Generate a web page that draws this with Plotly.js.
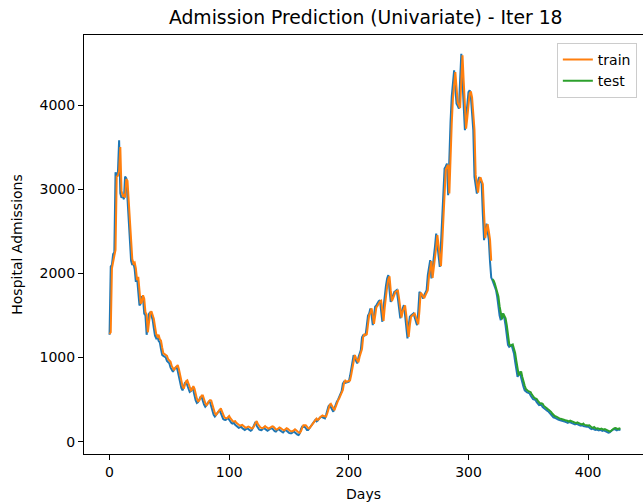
<!DOCTYPE html>
<html>
<head>
<meta charset="utf-8">
<script src="https://cdn.plot.ly/plotly-3.0.1.min.js"></script>
<style>html,body{margin:0;padding:0;background:#fff;}#chart{width:643px;height:504px;}</style>
</head>
<body>
<div id="chart"></div>
<script>
// Actual hospital admissions, days 0..427
const actualValues = [
1270,2080,2100,2230,2250,3200,3150,3200,3580,2950,2900,2920,2880,3150,3130,2850,2600,2350,2150,2100,2120,2050,1900,1950,1750,1620,1640,1730,1700,1520,1500,1270,1400,1520,1540,1500,1450,1350,1260,1230,1250,1200,1180,1100,1030,1020,
1010,1000,960,940,930,880,850,830,860,880,890,840,760,700,640,610,650,700,710,670,620,590,600,640,610,540,490,460,470,500,530,530,480,440,415,430,460,475,470,420,360,320,300,320,350,370,375,340,300,270,260,258,270,285,260,
237,220,215,225,200,185,175,165,170,180,160,145,140,150,160,150,135,130,140,170,200,235,190,160,145,140,138,150,165,150,135,130,140,155,160,158,140,125,120,135,150,140,125,118,110,125,140,130,115,105,100,100,110,125,110,95,85,80,100,150,
178,175,178,160,140,139,160,190,210,230,250,258,240,250,275,290,297,290,280,278,320,380,420,436,410,370,356,400,450,475,500,530,554,600,690,712,700,705,710,712,780,880,960,1029,990,950,930,1000,1060,1088,1240,1266,1260,1266,1380,1500,1524,1583,1500,1385,
1500,1603,1620,1650,1670,1682,1550,1425,1600,1780,1850,1940,1979,1800,1662,1700,1750,1781,1790,1801,1700,1560,1465,1543,1600,1623,1500,1385,1227,1380,1484,1500,1515,1524,1480,1420,1385,1550,1781,1760,1720,1702,1740,1781,1800,1979,2100,2157,1939,2050,2176,2320,2473,2350,2200,2077,2350,2651,2950,3245,
3270,3304,2928,3483,3800,4100,4300,4412,4200,4016,3990,3957,4300,4610,4273,3950,3700,3850,4050,4154,4175,4100,3900,3700,3145,3050,2948,3100,3145,3100,3067,2700,2394,2500,2592,2500,2394,2136,1950,1919,
1880,1820,1801,1721,1600,1500,1444,1524,1500,1465,1380,1260,1150,1128,1140,1148,1100,1049,950,840,772,800,831,760,693,650,610,594,585,580,574,545,515,505,500,495,470,450,436,440,436,410,396,390,375,365,356,340,320,297,290,285,275,270,262,258,255,245,250,240,237,230,225,235,228,220,218,210,205,215,205,198,195,190,200,185,180,175,178,180,165,155,150,160,147,140,145,138,135,140,131,128,135,125,120,115,107,110,125,140,147,150,140,135,145,140,139
];
// Train predictions, days 0..319
const trainStart = 0;
const trainValues = [
1280,1300,2060,2120,2210,2280,3150,3160,3220,3500,2980,2920,2930,2900,3120,3100,2870,2610,2380,2170,2120,2130,2060,1920,1960,1770,1640,1660,1740,1700,1540,1510,1300,1420,1530,1550,1510,1460,1370,1280,1250,1270,1220,1200,1120,1050,
1040,1030,1020,980,960,950,900,870,850,880,900,910,860,780,720,660,630,670,720,730,690,640,610,620,660,630,560,510,480,490,520,550,550,500,460,435,450,480,495,490,440,380,340,320,340,370,390,395,360,320,290,280,278,290,305,
280,260,245,240,245,225,210,200,190,195,200,185,170,165,172,180,172,160,155,165,190,220,245,210,185,170,165,160,172,185,172,158,155,165,178,182,178,162,148,145,158,170,162,148,140,135,148,160,152,138,128,125,125,135,148,135,120,110,105,125,
165,195,195,195,180,160,158,178,208,228,248,268,275,260,268,292,308,312,305,298,298,338,395,435,450,425,388,375,415,465,490,515,545,570,615,700,725,712,718,722,728,795,890,970,1030,995,960,945,1010,1070,1100,1245,1275,1268,1275,1390,1505,1530,1585,1505,
1400,1495,1595,1615,1645,1665,1675,1555,1435,1595,1770,1840,1930,1965,1800,1670,1705,1750,1780,1790,1795,1700,1565,1475,1545,1600,1620,1505,1395,1245,1385,1485,1500,1515,1522,1480,1425,1395,1555,1770,1755,1720,1705,1740,1780,1800,1970,2090,2145,1945,2050,2170,2310,2455,2345,2200,2085,2345,2640,2935,
3230,3265,3290,2950,3460,3780,4080,4280,4390,4210,4030,3995,3965,4290,4590,4280,3960,3720,3850,4040,4140,4160,4090,3900,3710,3170,3060,2960,3095,3140,3100,3060,2720,2420,2505,2585,2500,2400,2150
];
// Test predictions, days 320..427
const testStart = 320;
const testValues = [
1930,1915,1880,1825,1800,1725,1610,1510,1455,1525,1500,1465,1385,1270,1165,1140,1150,1155,1105,1055,960,855,790,810,835,770,705,665,625,610,600,595,588,560,530,520,515,508,485,465,452,455,450,425,410,405,390,380,370,355,335,312,305,300,290,285,278,272,270,262,265,255,252,245,240,250,243,235,233,225,220,230,220,213,210,205,215,200,195,190,193,195,180,170,165,175,162,155,160,153,150,155,146,143,150,140,135,130,122,125,140,155,160,163,155,150,158,153
];
const xTickVals = [0,100,200,300,400];
const yTickVals = [0,1000,2000,3000,4000];

const idx = (start, arr) => arr.map((_, i) => start + i);

const traces = [
  {x: idx(0, actualValues), y: actualValues, type: 'scatter', mode: 'lines', name: 'actual',
   line: {color: '#1f77b4', width: 2}, showlegend: false},
  {x: idx(trainStart, trainValues), y: trainValues, type: 'scatter', mode: 'lines', name: 'train',
   line: {color: '#ff7f0e', width: 2}},
  {x: idx(testStart, testValues), y: testValues, type: 'scatter', mode: 'lines', name: 'test',
   line: {color: '#2ca02c', width: 2}}
];

const font = {family: 'DejaVu Sans, sans-serif', size: 14, color: '#000'};

const layout = {
  width: 643, height: 504,
  margin: {l: 84, r: 0, t: 35, b: 50, pad: 0},
  paper_bgcolor: '#fff', plot_bgcolor: '#fff',
  font: font,
  title: {text: 'Admission Prediction (Univariate) - Iter 18', font: {family: 'DejaVu Sans, sans-serif', size: 18.8, color: '#000'},
          x: 0.504, xref: 'paper', xanchor: 'center', y: 0.966, yref: 'container', yanchor: 'middle'},
  xaxis: {range: [-21.35, 445.85], tickvals: xTickVals, ticktext: xTickVals.map(String),
          showgrid: false, zeroline: false, showline: true, mirror: true, linecolor: '#000', linewidth: 1,
          ticks: 'outside', ticklen: 5, tickwidth: 1, tickcolor: '#000',
          title: {text: 'Days', font: font, standoff: 10}},
  yaxis: {range: [-146, 4832], tickvals: yTickVals, ticktext: yTickVals.map(String),
          showgrid: false, zeroline: false, showline: true, mirror: true, linecolor: '#000', linewidth: 1,
          ticks: 'outside', ticklen: 5, tickwidth: 1, tickcolor: '#000',
          title: {text: 'Hospital Admissions', font: font, standoff: 13}},
  legend: {x: 0.989, y: 0.981, xanchor: 'right', yanchor: 'top', bgcolor: 'rgba(255,255,255,0.8)',
           bordercolor: '#cccccc', borderwidth: 1, font: font, tracegroupgap: 0},
  showlegend: true
};

Plotly.newPlot('chart', traces, layout, {staticPlot: true, displayModeBar: false});
</script>
</body>
</html>
